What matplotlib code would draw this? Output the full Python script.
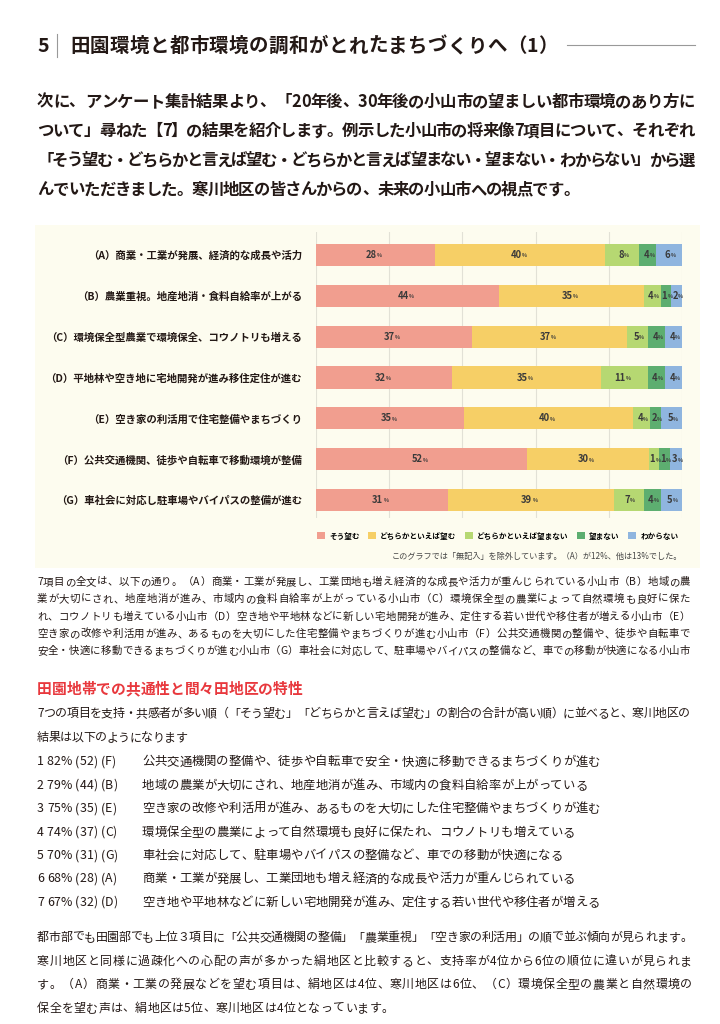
import matplotlib
matplotlib.use("Agg")
import matplotlib.pyplot as plt
from matplotlib.patches import Patch
from matplotlib.font_manager import FontProperties
import numpy as np

FAMILY = ['Noto Sans CJK JP', 'DejaVu Sans']
plt.rcParams['font.family'] = FAMILY

# ---- data ----
codes = ['A', 'B', 'C', 'D', 'E', 'F', 'G']
labels = [
    '（A）商業・工業が発展、経済的な成長や活力',
    '（B）農業重視。地産地消・食料自給率が上がる',
    '（C）環境保全型農業で環境保全、コウノトリも増える',
    '（D）平地林や空き地に宅地開発が進み移住定住が進む',
    '（E）空き家の利活用で住宅整備やまちづくり',
    '（F）公共交通機関、徒歩や自転車で移動環境が整備',
    '（G）車社会に対応し駐車場やバイパスの整備が進む',
]
series = ['そう望む', 'どちらかといえば望む', 'どちらかといえば望まない', '望まない', 'わからない']
strong_yes = [28, 44, 37, 32, 35, 52, 31]
yes = [40, 35, 37, 35, 40, 30, 39]
no = [8, 4, 5, 11, 4, 1, 7]
strong_no = [4, 1, 4, 4, 2, 1, 4]
unknown = [6, 2, 4, 4, 5, 3, 5]
colors = ['#F19E8F', '#F6CF66', '#B6D872', '#5DAE70', '#8FB5DF']

full_text = [
    '商業・工業が発展し、工業団地も増え経済的な成長や活力が重んじられている',
    '地域の農業が大切にされ、地産地消が進み、市域内の食料自給率が上がっている',
    '環境保全型の農業によって自然環境も良好に保たれ、コウノトリも増えている',
    '空き地や平地林などに新しい宅地開発が進み、定住する若い世代や移住者が増える',
    '空き家の改修や利活用が進み、あるものを大切にした住宅整備やまちづくりが進む',
    '公共交通機関の整備や、徒歩や自転車で安全・快適に移動できるまちづくりが進む',
    '車社会に対応して、駐車場やバイパスの整備など、車での移動が快適になる',
]

W, H = 720, 1024
fig = plt.figure(figsize=(W / 100, H / 100), dpi=100)
fig.patch.set_facecolor('white')
renderer = fig.canvas.get_renderer()
TXT = '#231815'

_cache = {}


def advance(c, prop):
    key = (c, prop.get_size_in_points(), prop.get_weight())
    if key not in _cache:
        w1 = renderer.get_text_width_height_descent('I' + c + 'I', prop, ismath=False)[0]
        w0 = renderer.get_text_width_height_descent('II', prop, ismath=False)[0]
        _cache[key] = w1 - w0
    return _cache[key]


def line(x0, y, s, size, weight='normal', color=TXT, right=None, gap=None):
    # draws one line char by char; stretched to `right` when given (justified)
    prop = FontProperties(family=FAMILY, size=size, weight=weight)
    advs = [advance(c, prop) for c in s]
    if right is not None:
        gap = (right - x0 - sum(advs)) / (len(s) - 1)
    elif gap is None:
        gap = 0.0
    x = x0
    base = y + size * 100 / 72 * 0.36
    for c, a in zip(s, advs):
        if c != ' ':
            fig.text(x / W, 1 - base / H, c, fontproperties=prop, color=color, ha='left', va='baseline')
        x += a + gap
    return gap


def paragraph(x0, y0, step, rows, size, right, weight='normal', color=TXT, last_full=False):
    gaps = []
    for i, s in enumerate(rows):
        if i < len(rows) - 1 or last_full:
            gaps.append(line(x0, y0 + i * step, s, size, weight, color, right=right))
        else:
            line(x0, y0 + i * step, s, size, weight, color, gap=np.mean(gaps) if gaps else 0)


def px(x, y):
    return x / W, 1 - y / H


# ---- title ----
line(37, 45, '5', 14, 'bold')
fig.add_artist(plt.Line2D([57 / W, 57 / W], [1 - 34 / H, 1 - 57 / H], color='#999999', lw=0.8))
line(70, 45, '田園環境と都市環境の調和がとれたまちづくりへ（1）', 14, 'bold', right=558)
fig.add_artist(plt.Line2D([567 / W, 695 / W], [1 - 45 / H, 1 - 45 / H], color='#999999', lw=0.8))

intro = [
    '次に、アンケート集計結果より、「20年後、30年後の小山市の望ましい都市環境のあり方に',
    'ついて」尋ねた【7】の結果を紹介します。例示した小山市の将来像7項目について、それぞれ',
    '「そう望む・どちらかと言えば望む・どちらかと言えば望まない・望まない・わからない」から選',
    'んでいただきました。寒川地区の皆さんからの、未来の小山市への視点です。',
]
paragraph(37, 101, 29.3, intro, 11.8, 695, weight='bold')

# ---- chart panel ----
panel = plt.Rectangle(px(35, 568), (700 - 35) / W, (568 - 225) / H, transform=fig.transFigure,
                      facecolor='#FDFCEF', edgecolor='none', zorder=0)
fig.add_artist(panel)

ax = fig.add_axes([316 / W, 1 - 518 / H, (682 - 316) / W, (518 - 232) / H])
ax.set_facecolor('none')
vals = np.array([strong_yes, yes, no, strong_no, unknown], dtype=float)
# segment widths: share of answers, with a small minimum so tiny shares stay visible
shares = vals / vals.sum(axis=0) * 100
shares = np.maximum(shares, 3.0)
shares = shares / shares.sum(axis=0) * 100
ypos = np.arange(len(codes))
left = np.zeros(len(codes))
for k in range(len(series)):
    ax.barh(ypos, shares[k], left=left, height=0.54, color=colors[k], zorder=2)
    for j in range(len(codes)):
        cx = left[j] + shares[k][j] / 2
        ax.annotate(str(int(vals[k][j])), (cx, ypos[j]), xytext=(1.0, 0), textcoords='offset points',
                    ha='right', va='center', fontsize=6.8, fontweight='bold', color='#3a3a3a', zorder=3)
        ax.annotate('%', (cx, ypos[j]), xytext=(1.1, -0.6), textcoords='offset points',
                    ha='left', va='center', fontsize=3.8, fontweight='bold', color='#3a3a3a', zorder=3)
    left += shares[k]

ax.set_xlim(0, 100)
ax.set_ylim(6.44, -0.563)
ax.set_xticks(np.arange(0, 101, 20))
ax.xaxis.grid(True, color='#E2E1D6', lw=0.8, zorder=0)
ax.tick_params(axis='x', length=0, labelbottom=False)
ax.set_yticks(ypos)
ax.set_yticklabels(labels, fontsize=7.5, fontweight='bold', color=TXT)
ax.tick_params(axis='y', length=0, pad=10)
for sp in ax.spines.values():
    sp.set_visible(False)

handles = [Patch(facecolor=c, edgecolor='none') for c in colors]
fig.legend(handles, series, loc='center left', bbox_to_anchor=px(310, 536), ncol=5, frameon=False,
           handlelength=1.0, handleheight=1.0, handletextpad=0.6, columnspacing=1.1,
           prop={'weight': 'bold', 'size': 5.5, 'family': FAMILY})
fig.text(*px(682, 556), 'このグラフでは「無記入」を除外しています。（A）が12%、他は13%でした。', fontsize=5.9,
         ha='right', va='center', color='#444444')

# ---- text below ----
note = [
    '7項目の全文は、以下の通り。（A）商業・工業が発展し、工業団地も増え経済的な成長や活力が重んじられている小山市（B）地域の農',
    '業が大切にされ、地産地消が進み、市域内の食料自給率が上がっている小山市（C）環境保全型の農業によって自然環境も良好に保た',
    'れ、コウノトリも増えている小山市（D）空き地や平地林などに新しい宅地開発が進み、定住する若い世代や移住者が増える小山市（E）',
    '空き家の改修や利活用が進み、あるものを大切にした住宅整備やまちづくりが進む小山市（F）公共交通機関の整備や、徒歩や自転車で',
    '安全・快適に移動できるまちづくりが進む小山市（G）車社会に対応して、駐車場やバイパスの整備など、車での移動が快適になる小山市',
]
paragraph(37, 581, 17.4, note, 7.5, 690, last_full=True)

line(37, 689, '田園地帯での共通性と間々田地区の特性', 10.6, 'bold', color='#E8383D')
lead = [
    '7つの項目を支持・共感者が多い順（「そう望む」「どちらかと言えば望む」の割合の合計が高い順）に並べると、寒川地区の',
    '結果は以下のようになります',
]
paragraph(37, 713, 24, lead, 8.6, 690)

support = [a + b for a, b in zip(strong_yes, yes)]
order = sorted(range(len(codes)), key=lambda j: -support[j])
for r, j in enumerate(order):
    y = 761 + r * 23.4
    line(37, y, f'{r + 1} {support[j]}% ({strong_yes[j]}) ({codes[j]})', 8.9, gap=0.1)
    line(142, y, full_text[j], 8.9)

closing = [
    '都市部でも田園部でも上位３項目に「公共交通機関の整備」「農業重視」「空き家の利活用」の順で並ぶ傾向が見られます。',
    '寒川地区と同様に過疎化への心配の声が多かった絹地区と比較すると、支持率が4位から6位の順位に違いが見られま',
    'す。（A）商業・工業の発展などを望む項目は、絹地区は4位、寒川地区は6位、（C）環境保全型の農業と自然環境の',
    '保全を望む声は、絹地区は5位、寒川地区は4位となっています。',
]
paragraph(37, 937, 23.5, closing, 8.6, 692)

fig.savefig('out.png', dpi=100)
